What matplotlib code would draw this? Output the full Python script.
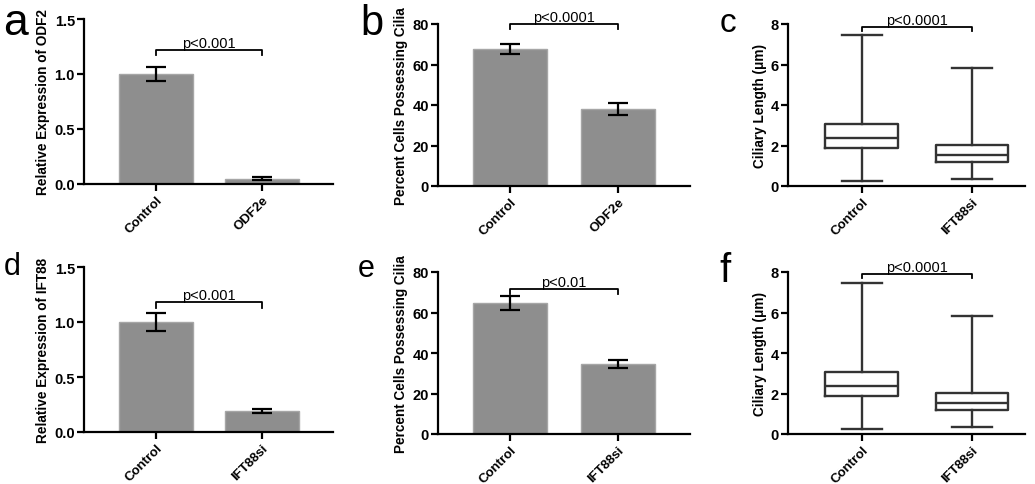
import numpy as np
import matplotlib
matplotlib.use("Agg")
from matplotlib import pyplot as plt

plt.rcParams['font.family'] = ['Liberation Sans', 'DejaVu Sans']

#-----------------------------------------------------------------------------------#
## data
groups_odf2 = ["Control", "ODF2e"]
groups_ift88 = ["Control", "IFT88si"]

# a : relative expression of ODF2
expr_odf2 = [1.0, 0.05]
expr_odf2_err = [0.065, 0.01]
# b : percent ciliated cells (ODF2)
cilia_odf2 = [67.7, 38.0]
cilia_odf2_err = [2.3, 3.0]
# d : relative expression of IFT88
expr_ift88 = [1.0, 0.19]
expr_ift88_err = [0.08, 0.02]
# e : percent ciliated cells (IFT88)
cilia_ift88 = [64.5, 34.5]
cilia_ift88_err = [3.5, 2.0]
# c, f : ciliary length box plots (min, q1, median, q3, max)
len_whislo = [0.25, 0.35]
len_q1 = [1.87, 1.20]
len_med = [2.35, 1.55]
len_q3 = [3.07, 2.02]
len_whishi = [7.45, 5.85]

p_labels = ["p<0.001", "p<0.0001", "p<0.0001", "p<0.001", "p<0.01", "p<0.0001"]
#-----------------------------------------------------------------------------------#

W, H = 1035, 485
fig = plt.figure(figsize=(W / 100, H / 100), dpi=100)


def px_axes(left, right, top, bottom):
    return fig.add_axes([left / W, 1 - bottom / H, (right - left) / W, (bottom - top) / H])


def style(ax, ylim, yticks, yfmt, ylabel, xlabels, xlim):
    for s in ["top", "right"]:
        ax.spines[s].set_visible(False)
    for s in ["left", "bottom"]:
        ax.spines[s].set_linewidth(1.6)
    ax.set_ylim(*ylim)
    ax.set_xlim(*xlim)
    ax.set_yticks(yticks)
    ax.set_yticklabels([yfmt.format(v) for v in yticks], fontweight="bold", fontsize=10.5)
    ax.set_xticks(range(len(xlabels)))
    ax.set_xticklabels(xlabels, rotation=45, ha="right", va="top",
                       rotation_mode="anchor", fontweight="bold", fontsize=9.5)
    ax.tick_params(width=1.6, length=5, pad=1.5)
    ax.tick_params(axis="x", pad=2)
    ax.set_ylabel(ylabel, fontweight="bold", fontsize=9.8, labelpad=3)


def bracket(ax, y, drop, text):
    ax.plot([0, 0, 1, 1], [y - drop, y, y, y - drop], color="black", lw=1.3, clip_on=False)
    ax.text(0.5, y, text, ha="center", va="bottom", fontsize=10.5)


def bar_panel(ax, vals, errs, labels, ylim, yticks, yfmt, ylabel, xlim, by, bd, ptxt):
    ax.bar(range(len(vals)), vals, width=0.69, color="#8e8e8e", edgecolor="#a6a6a6", lw=1)
    ax.errorbar(range(len(vals)), vals, yerr=errs, fmt="none", ecolor="black",
                elinewidth=1.6, capsize=7, capthick=1.6)
    style(ax, ylim, yticks, yfmt, ylabel, labels, xlim)
    bracket(ax, by, bd, ptxt)


def box_panel(ax, labels, ylabel, by, bd, ptxt):
    stats = []
    for i in range(len(labels)):
        stats.append(dict(med=len_med[i], q1=len_q1[i], q3=len_q3[i],
                          whislo=len_whislo[i], whishi=len_whishi[i], fliers=[]))
    c = "#333333"
    ax.bxp(stats, positions=range(len(labels)), widths=0.66, showfliers=False,
           boxprops=dict(color=c, lw=1.7), whiskerprops=dict(color=c, lw=1.7),
           capprops=dict(color=c, lw=1.7), medianprops=dict(color=c, lw=1.7),
           capwidths=0.36)
    style(ax, (0, 8), [0, 2, 4, 6, 8], "{:.0f}", "Ciliary Length (\u03bcm)", labels, (-0.67, 1.48))
    bracket(ax, by, bd, ptxt)


ax_a = px_axes(84, 333, 20, 185)
bar_panel(ax_a, expr_odf2, expr_odf2_err, groups_odf2, (0, 1.5), [0, 0.5, 1.0, 1.5], "{:.1f}",
          "Relative Expression of ODF2", (-0.68, 1.67), 1.22, 0.05, p_labels[0])

ax_b = px_axes(438, 690, 25, 187)
bar_panel(ax_b, cilia_odf2, cilia_odf2_err, groups_odf2, (0, 80), [0, 20, 40, 60, 80], "{:.0f}",
          "Percent Cells Possessing Cilia", (-0.67, 1.67), 80, 2.5, p_labels[1])

ax_c = px_axes(788, 1025, 25, 187)
box_panel(ax_c, groups_ift88, "Ciliary Length", 7.85, 0.2, p_labels[2])

ax_d = px_axes(84, 333, 268, 433)
bar_panel(ax_d, expr_ift88, expr_ift88_err, groups_ift88, (0, 1.5), [0, 0.5, 1.0, 1.5], "{:.1f}",
          "Relative Expression of IFT88", (-0.68, 1.67), 1.18, 0.05, p_labels[3])

ax_e = px_axes(438, 690, 273, 435)
bar_panel(ax_e, cilia_ift88, cilia_ift88_err, groups_ift88, (0, 80), [0, 20, 40, 60, 80], "{:.0f}",
          "Percent Cells Possessing Cilia", (-0.67, 1.67), 71.6, 2.5, p_labels[4])

ax_f = px_axes(788, 1025, 273, 435)
box_panel(ax_f, groups_ift88, "Ciliary Length", 7.9, 0.2, p_labels[5])

## panel letters
letters = [("a", 3, 35, 32), ("b", 360, 35, 30), ("c", 720, 32, 24),
           ("d", 4, 275, 22), ("e", 358, 277, 22), ("f", 719, 282, 29)]
for t, x, y, s in letters:
    fig.text(x / W, 1 - y / H, t, fontsize=s, ha="left", va="baseline")

fig.savefig("out.png", dpi=100)
